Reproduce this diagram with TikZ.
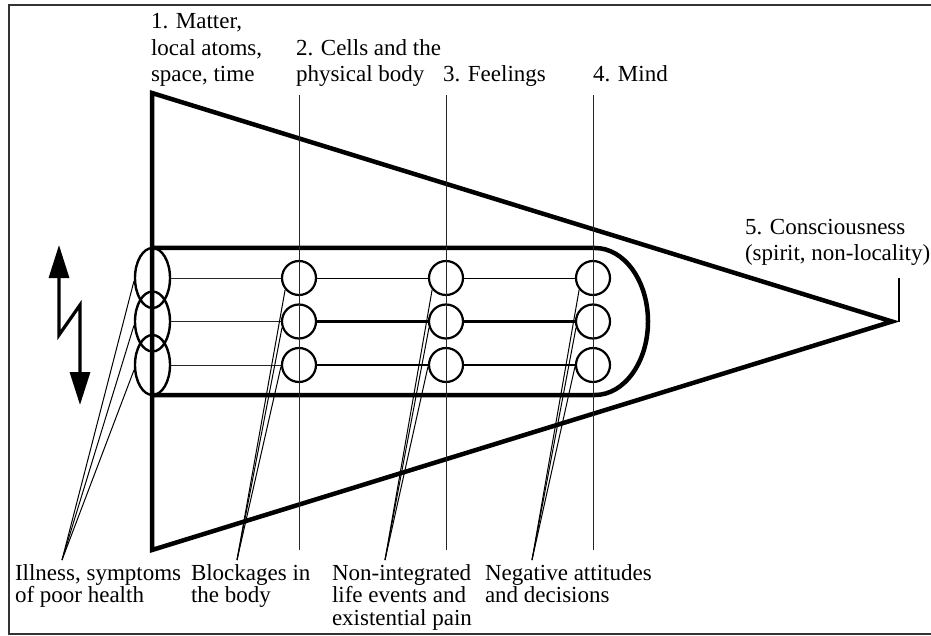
\documentclass[tikz,border=0pt]{standalone}
\usepackage{fontspec}
\setmainfont{Liberation Serif}
\usetikzlibrary{arrows.meta, shapes.geometric, calc}
\tikzset{
  every picture/.style={x=1pt, y=-1pt, line join=miter},
  heavy/.style={line width=4.5pt},
  fine/.style={line width=1pt, draw=black!85},
  leader/.style={line width=1pt},
  ring/.style={circle, draw, line width=2.2pt, minimum size=34pt, inner sep=0pt},
  oval/.style={ellipse, draw, line width=2.4pt, minimum width=35pt, minimum height=60pt, inner sep=0pt},
  toplabel/.style={font=\fontsize{23}{26.5}\selectfont, align=left, anchor=south west, inner sep=0pt, outer sep=0pt, text depth=0pt},
  botlabel/.style={toplabel, font=\fontsize{23}{22.5}\selectfont},
  zigzag/.style={line width=3.2pt, {Triangle[length=33pt, width=20pt]}-{Triangle[length=33pt, width=20pt]}},
}

\begin{document}
\begin{tikzpicture}
  \useasboundingbox (0,0) rectangle (931,636);
  \draw[line width=2pt, draw=black!80] (931,5) -- (9,5) -- (9,634) -- (931,634);
  % cone and tube
  \coordinate (tip) at (892,321.5);
  \draw[heavy] (152,93) -- (tip) -- (152,550) -- cycle;
  \draw[heavy] (152,248) -- (595,248) arc[start angle=-90, end angle=90, x radius=53, y radius=73.5] -- (152,395);
  \foreach \r/\yy in {1/278, 2/321.5, 3/365} {
    \node[oval] (e\r) at (152.5,\yy) {};
    \foreach \c/\xx in {1/299, 2/446, 3/593}
      \node[ring] (c\r\c) at (\xx,\yy) {};
  }
  \foreach \r/\w in {1/1pt, 2/2.2pt, 3/2.2pt} {
    \draw[fine] (e\r) -- (c\r1);
    \draw[line width=\w] (c\r1) -- (c\r2);
    \draw[line width=\w] (c\r2) -- (c\r3);
  }
  \foreach \xx in {299, 446, 593} \draw[fine] (\xx,95) -- (\xx,550);
  % labels
  \node[toplabel] (l1) at (151,82) {1. Matter,\\local atoms,\\space, time};
  \node[toplabel] (l2) at (296,82) {2. Cells and the\\physical body};
  \node[toplabel] (l3) at (443,82) {3. Feelings};
  \node[toplabel] (l4) at (593,82) {4. Mind};
  \node[toplabel] (l5) at (745,261) {5. Consciousness\\(spirit, non-locality)};
  \node[botlabel] (b1) at (15,602.5) {Illness, symptoms\\of poor health};
  \node[botlabel] (b2) at (191,602.5) {Blockages in\\the body};
  \node[botlabel] (b3) at (332,625) {Non-integrated\\life events and\\existential pain};
  \node[botlabel] (b4) at (485,602.5) {Negative attitudes\\and decisions};
  \coordinate (t5) at (899,278);
  \draw[line width=1.8pt] (tip -| t5) -- (t5);
  % leaders
  \coordinate (p0) at (62,560);
  \coordinate (p1) at (237,560);
  \coordinate (p2) at (385,560);
  \coordinate (p3) at (532,560);
  \foreach \r/\a in {1/190, 2/192, 3/195} \draw[leader] (p0) -- (e\r.\a);
  \foreach \c in {1,2,3}
    \foreach \r/\a in {1/220, 2/200, 3/185} \draw[leader] (p\c) -- (c\r\c.\a);
  % up and down
  \coordinate (z0) at (59,245);
  \coordinate (z1) at (59,335);
  \coordinate (z2) at (80,305);
  \coordinate (z3) at (80,405);
  \draw[zigzag] (z0) -- (z1) -- (z2) -- (z3);
\end{tikzpicture}
\end{document}
